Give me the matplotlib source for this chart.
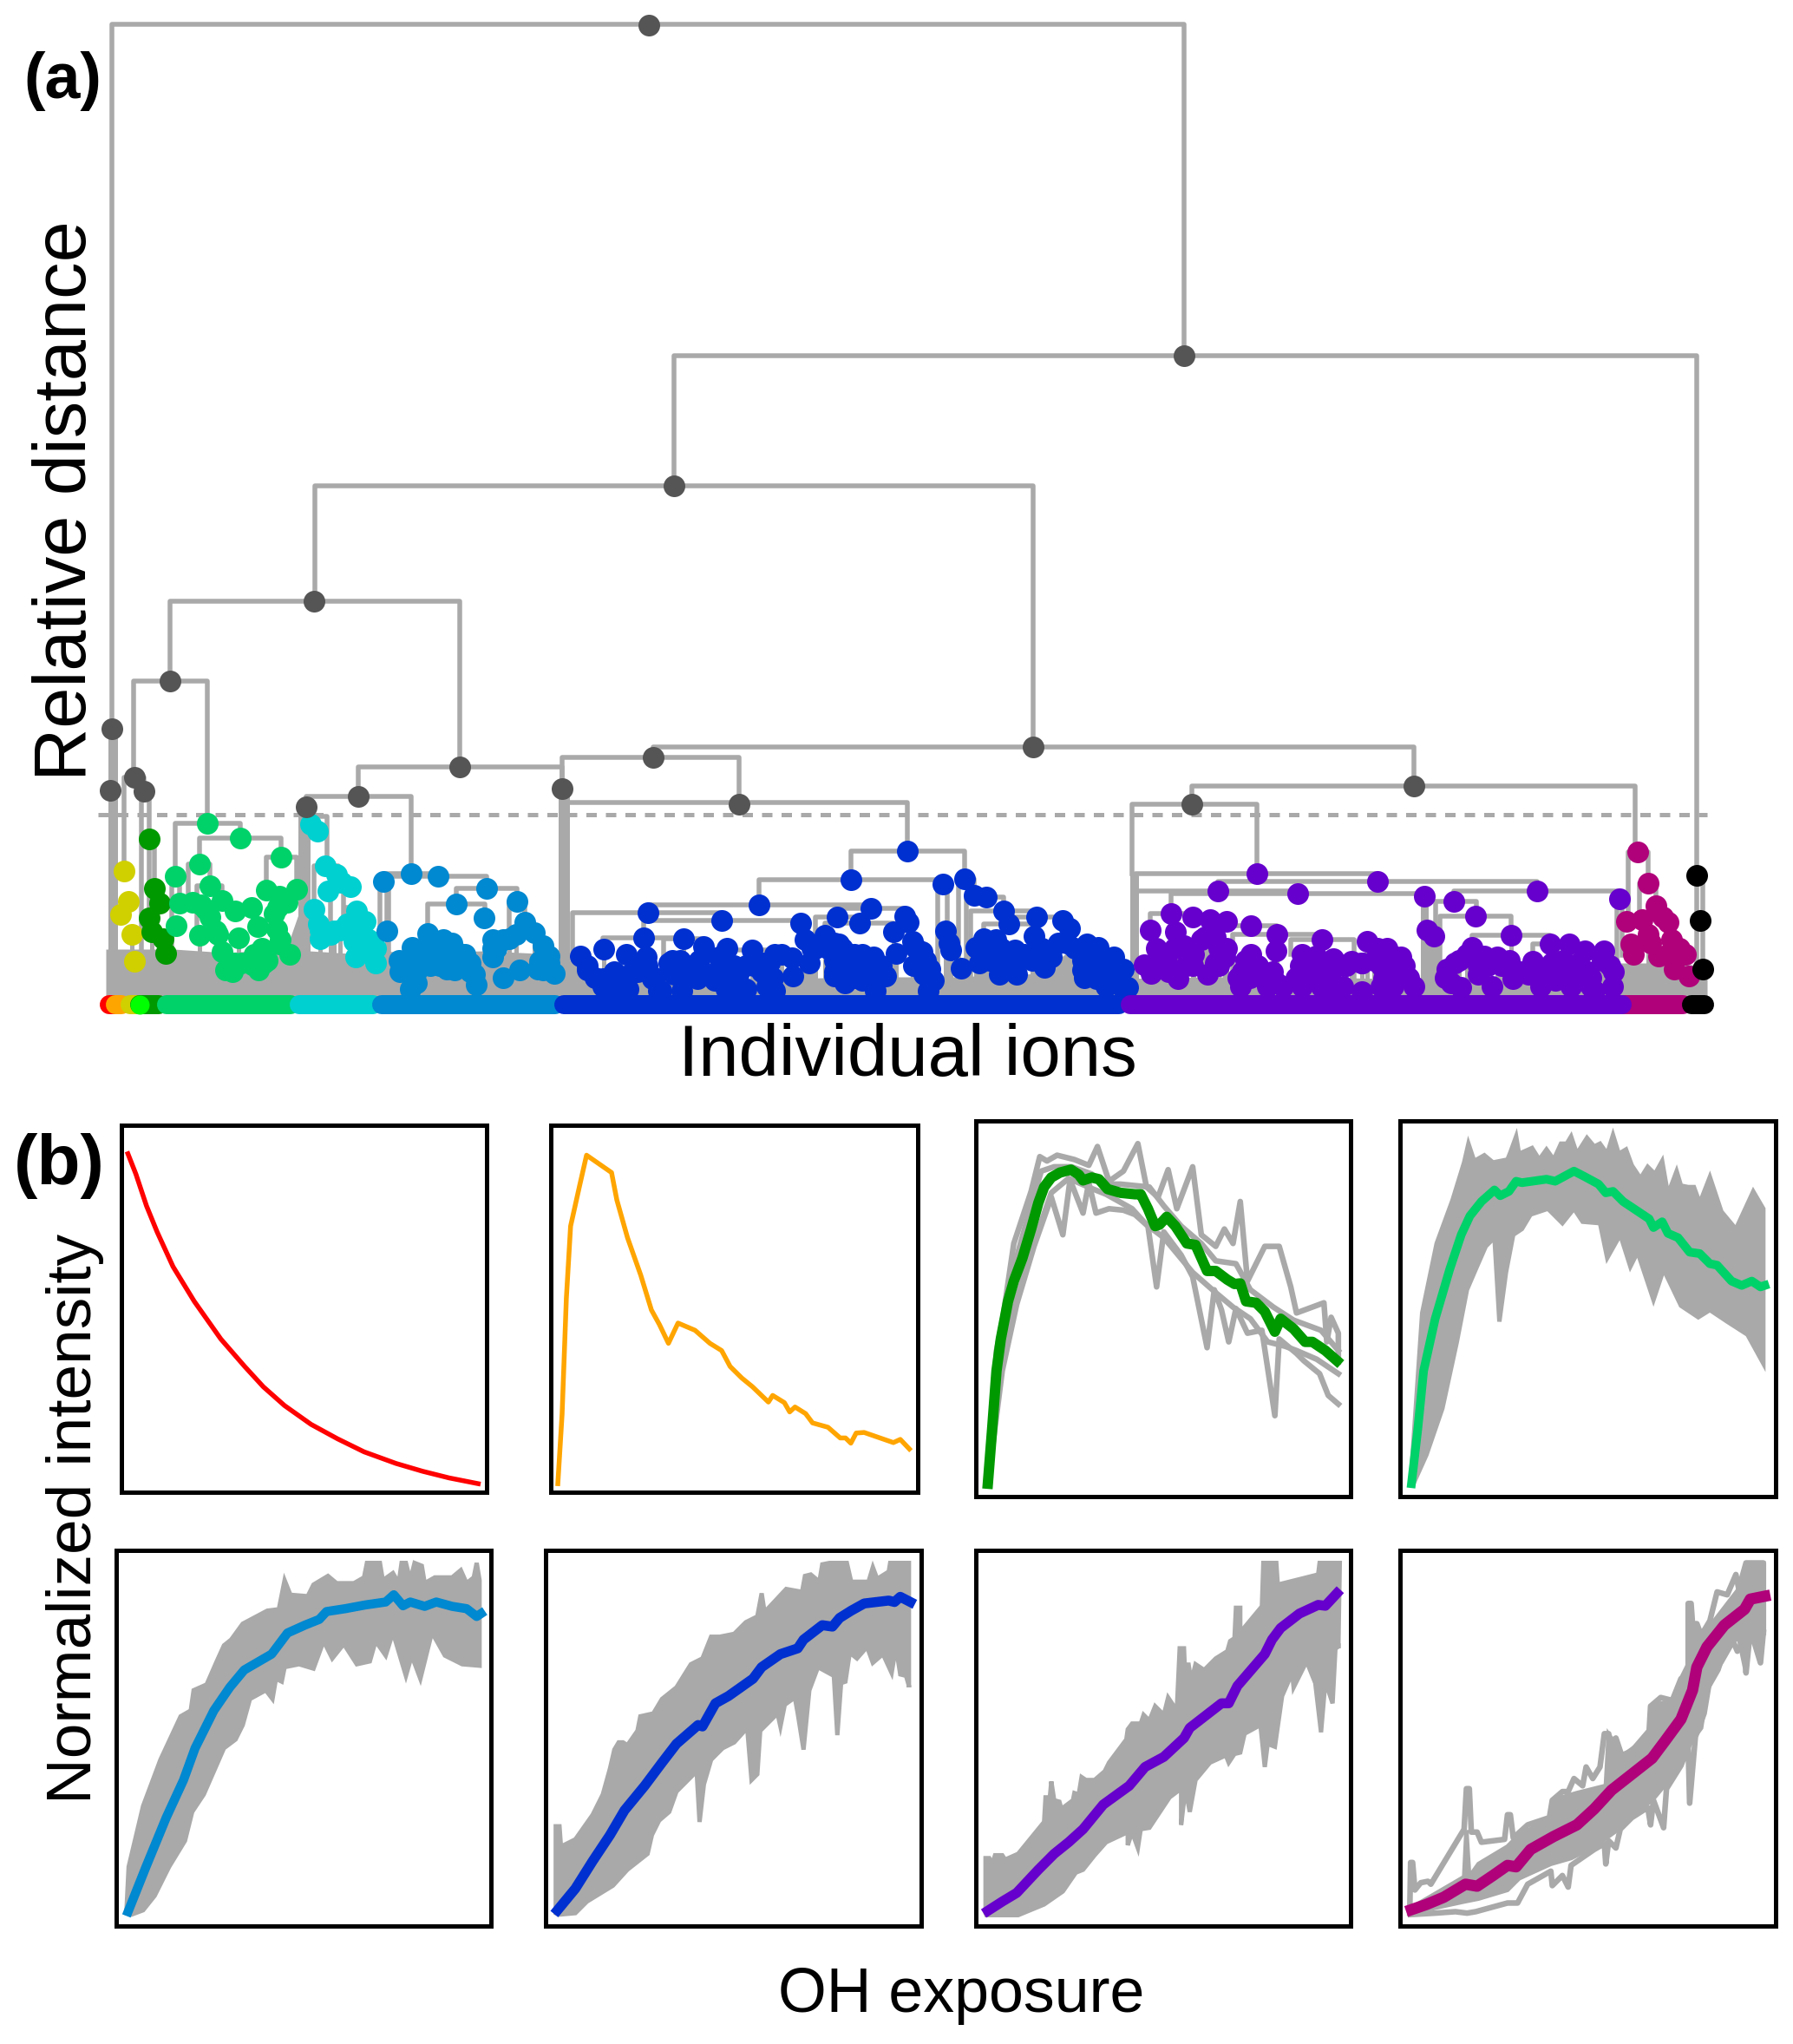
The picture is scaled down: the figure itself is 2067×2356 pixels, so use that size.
import numpy as np
import matplotlib as mpl
mpl.use('Agg')
from matplotlib import pyplot as plt

mpl.rcParams['font.family'] = ['Liberation Sans', 'DejaVu Sans']

W, H = 2067, 2356
BASE = 1156   # pixel row of distance zero in the tree
GRAY = '#a9a9a9'
NODE = '#555555'

# ---- (a) tree: one entry per link: left, right, height, left leg end, right leg end
link_l = [129, 777, 363, 196, 154, 143, 163, 172, 413, 353, 442, 438, 448, 526, 493, 587,
          753, 648, 652, 981, 875, 747, 660, 742, 965, 940, 951, 1081, 1105, 1114, 1119, 1165, 1134, 695, 765, 838,
          1374, 1305, 1309, 1404, 1309, 1350, 1676, 1655, 1660, 1697, 1767, 1864, 1326, 1394, 1421, 1488, 1877, 1890,
          202, 230, 307, 217, 227, 198, 351, 362, 381, 397, 1956]
link_r = [1365, 1956, 1191, 530, 239, 166, 172, 178, 648, 474, 505, 446, 561, 596, 559, 605,
          1630, 852, 1046, 1112, 1087, 1004, 832, 923, 1043, 991, 1030, 1092, 1123, 1157, 1195, 1225, 1192, 788, 811, 901,
          1885, 1449, 1588, 1772, 1496, 1642, 1867, 1702, 1742, 1787, 1809, 1870, 1375, 1472, 1524, 1561, 1900, 1909,
          277, 324, 342, 242, 256, 207, 377, 390, 396, 411, 1963]
link_h = [1128, 746, 596, 463, 371, 260, 244, 189, 272, 238, 149, 140, 146, 132, 114, 117,
          295, 283, 231, 175, 142, 113, 104, 95, 109, 99, 92, 137, 143, 122, 106, 99, 91, 75, 74, 61,
          250, 229, 149, 140, 129, 126, 129, 117, 100, 78, 68, 120, 103, 89, 79, 73, 174, 138,
          207, 190, 168, 160, 135, 146, 215, 158, 129, 110, 147]
link_le = [316, 596, 463, 371, 260, 152, 0, 98, 238, 226, 140, 0, 0, 114, 80, 74,
           283, 247, 0, 142, 113, 104, 45, 75, 99, 63, 78, 0, 0, 0, 0, 91, 74, 62, 46, 63,
           229, 149, 0, 129, 0, 103, 117, 0, 0, 64, 48, 0, 84, 53, 0, 56, 94, 96,
           146, 160, 130, 115, 90, 0, 0, 108, 90, 90, 0]
link_re = [746, 147, 295, 272, 207, 244, 189, 132, 247, 149, 146, 83, 132, 117, 98, 93,
           250, 231, 175, 143, 137, 109, 95, 92, 100, 92, 82, 83, 124, 106, 99, 95, 77, 74, 65, 56,
           174, 149, 140, 129, 126, 123, 120, 100, 78, 68, 68, 55, 99, 79, 73, 0, 138, 112,
           190, 168, 131, 135, 118, 115, 158, 148, 90, 90, 0]
# node centres that close the upper tree
node_x = [748, 1365, 777, 362, 196, 129, 155, 166, 127, 530, 413, 353, 648, 753, 852, 1191, 1630, 1374]
node_h = [1127, 746, 596, 463, 371, 316, 260, 244, 245, 272, 238, 226, 247, 283, 229, 295, 250, 229]
# thick bundles of merged stems: centre, width, top
bundle_x = [130, 351, 650, 1308, 1642, 1650]
bundle_w = [11, 14, 13, 10, 9, 24]
bundle_h = [316, 226, 247, 149, 125, 65]

# gray mass under the clusters
mass_x = [122, 200, 260, 330, 345, 356, 420, 440, 470, 560, 640, 700, 800, 900, 1000, 1100, 1200, 1230, 1290, 1400, 1500, 1600, 1700, 1800, 1868, 1900, 1950, 1968]
mass_h = [62, 62, 58, 62, 105, 60, 56, 60, 58, 60, 56, 30, 30, 28, 30, 30, 34, 58, 28, 30, 30, 28, 30, 28, 46, 46, 44, 36]

# leaves, read per cluster
yellow_x = [143, 148, 139, 152, 155]
yellow_h = [152, 117, 102, 79, 48]
dgreen_x = [172, 178, 184, 172, 175, 188, 191]
dgreen_h = [189, 132, 115, 98, 82, 74, 57]
green_x = [239, 277, 324, 230, 202, 242, 342, 307, 256, 207, 222, 232, 290, 271, 331, 322, 316, 242, 203, 230, 251, 297, 319, 275, 322, 302, 256, 334, 278, 304, 260, 298, 268, 291,
           270, 293, 308, 249, 237, 320, 323]
green_h = [207, 190, 168, 160, 146, 135, 131, 130, 118, 115, 116, 113, 110, 106, 116, 123, 103, 99, 89, 78, 79, 88, 85, 75, 68, 63, 59, 56, 46, 46, 38, 38, 36, 44,
           46, 56, 49, 83, 108, 110, 73]
cyan_x = [358, 366, 375, 388, 404, 378, 394, 362, 411, 421, 367, 385, 400, 369, 425, 408, 415, 410, 433, 433,
          369, 392, 408, 381, 423]
cyan_h = [206, 198, 158, 148, 134, 129, 139, 108, 106, 94, 91, 83, 91, 74, 73, 71, 63, 53, 63, 46,
          84, 84, 79, 79, 63]
blue_x = [442, 474, 505, 561, 526, 596, 446, 558, 605, 493, 616, 568, 475, 511, 521, 587, 572, 492, 626, 633, 460, 568, 507, 530, 622, 542, 599, 580, 639, 626, 461, 515, 524, 547, 480, 549, 473,
          473, 484, 499, 526, 536, 515, 496, 507, 534, 473, 480, 542, 568, 580, 595, 633, 620]
blue_h = [140, 149, 146, 132, 114, 117, 83, 98, 93, 80, 81, 73, 64, 73, 69, 74, 63, 56, 66, 54, 49, 53, 51, 53, 48, 46, 38, 29, 34, 38, 36, 39, 38, 33, 23, 21, 16,
          49, 59, 63, 59, 56, 53, 43, 43, 43, 33, 36, 36, 63, 73, 79, 46, 39]
royal_x = [1046, 1112, 981, 1087, 875, 747, 832, 923, 1004, 965, 991, 1043, 1047, 1123, 1137, 1157, 1163, 1195, 1225, 1233, 1090, 1030, 1192, 1220, 742, 788, 1052, 811, 838, 867, 1094, 1096, 928, 951, 940, 1134, 1148, 1125, 1170, 1201, 669, 696, 722, 745, 784, 771, 901, 913, 829, 846, 933, 994, 1007, 980, 967, 1033, 1063, 1053, 1108, 1129, 1152, 1172, 1204, 1212, 1248, 1264, 1266, 1284, 1295, 1279, 1300, 677, 695, 708, 735, 752, 759, 704, 724, 804, 786, 824, 842, 860, 884, 893, 914, 962, 974, 994, 1009, 1021, 1070, 1076, 880,
           677, 686, 695, 708, 717, 726, 739, 746, 755, 762, 775, 777, 786, 797, 806, 804, 833, 826, 837, 851, 860, 869, 878, 887, 893, 891, 884, 846, 837, 936, 954, 962, 971, 962, 985, 989, 1003, 1016, 971, 962, 985, 1003, 1056, 1067, 1072, 1065, 1137, 1141, 1154, 1159, 1181, 1172, 1190, 1197, 1206, 1154, 1248, 1253, 1259, 1270, 1279, 1288, 1268, 1250, 1275, 1293, 1230, 1239, 1253]
royal_h = [175, 143, 142, 137, 113, 104, 95, 92, 109, 99, 92, 100, 93, 124, 122, 106, 91, 99, 95, 86, 83, 82, 77, 69, 75, 74, 71, 65, 63, 61, 69, 61, 73, 78, 63, 74, 73, 64, 61, 63, 54, 62, 56, 53, 49, 46, 56, 52, 53, 43, 46, 56, 53, 56, 68, 57, 59, 43, 40, 46, 33, 33, 41, 53, 38, 28, 64, 53, 39, 26, 18, 38, 28, 36, 36, 28, 14, 16, 16, 28, 14, 26, 19, 16, 29, 14, 31, 31, 23, 26, 14, 31, 14, 26, 46,
           43, 29, 19, 19, 29, 33, 43, 43, 29, 14, 49, 33, 33, 43, 49, 43, 33, 36, 43, 33, 43, 43, 36, 46, 56, 29, 19, 19, 16, 63, 63, 69, 63, 49, 56, 46, 43, 43, 36, 36, 29, 29, 63, 49, 39, 33, 63, 49, 63, 49, 56, 49, 49, 56, 49, 43, 49, 49, 39, 53, 43, 33, 29, 29, 19, 19, 69, 63, 68]
purple_x = [1449, 1588, 1404, 1496, 1642, 1772, 1676, 1867, 1701, 1350, 1375, 1395, 1414, 1442, 1326, 1355, 1472, 1645, 1653, 1742, 1524, 1471, 1576, 1787, 1809, 1827, 1849, 1697, 1333, 1365, 1389, 1405, 1412, 1442, 1501, 1517, 1537, 1558, 1588, 1606, 1619, 1767, 1791, 1711, 1726, 1856, 1682, 1319, 1327, 1358, 1375, 1392, 1405, 1427, 1430, 1461, 1445, 1467, 1479, 1501, 1505, 1534, 1548, 1570, 1595, 1608, 1630, 1666, 1684, 1720, 1744, 1740, 1776, 1784, 1811, 1834, 1822, 1859, 1838, 1570,
            1336, 1345, 1354, 1376, 1385, 1401, 1401, 1414, 1367, 1347, 1436, 1432, 1450, 1456, 1472, 1441, 1494, 1499, 1512, 1523, 1530, 1543, 1523, 1539, 1552, 1570, 1584, 1592, 1613, 1624, 1599, 1615, 1592, 1606, 1668, 1677, 1691, 1704, 1715, 1731, 1740, 1673, 1704, 1753, 1762, 1767, 1776, 1789, 1802, 1820, 1831, 1802, 1816, 1834, 1793, 1860, 1847]
purple_h = [149, 140, 129, 126, 123, 129, 117, 120, 100, 103, 99, 96, 94, 89, 84, 82, 79, 84, 77, 78, 73, 60, 71, 68, 68, 60, 60, 64, 63, 66, 76, 63, 53, 56, 56, 54, 51, 48, 63, 54, 43, 48, 44, 54, 53, 43, 49, 44, 34, 28, 43, 33, 43, 29, 19, 19, 46, 36, 19, 19, 34, 36, 19, 13, 28, 29, 19, 29, 18, 19, 28, 43, 19, 33, 19, 29, 36, 19, 14, 46,
            43, 46, 63, 56, 73, 76, 46, 63, 43, 36, 49, 36, 43, 29, 23, 29, 29, 43, 43, 36, 46, 43, 19, 19, 43, 46, 49, 43, 36, 29, 63, 53, 19, 19, 39, 46, 56, 43, 43, 43, 49, 23, 33, 36, 33, 39, 36, 46, 49, 46, 36, 36, 29, 19, 26, 36, 49]
magenta_x = [1888, 1900, 1909, 1875, 1893, 1917, 1923, 1880, 1883, 1900, 1903, 1927, 1936, 1912, 1943, 1930, 1947, 1923]
magenta_h = [174, 138, 112, 94, 96, 99, 93, 68, 56, 79, 69, 73, 63, 54, 56, 39, 31, 56]
black_x = [1956, 1960, 1963]
black_h = [147, 95, 39]

# colour strip under the leaves: start, end of each cluster
strip_start = [126, 133, 150, 161, 192, 345, 440, 650, 1850, 1303, 1950]
strip_end = [133, 140, 165, 183, 335, 430, 640, 1290, 1940, 1870, 1965]
strip_col = ['#ff0000', '#ffa500', '#d0d000', '#009900', '#00d26a', '#00d0d0', '#0088d0', '#0030d0', '#b0007a', '#6600cc', '#000000']
lime_x = [161]

# ---- (b) small panels: exposure, normalized intensity
red_x = [45, 60, 80, 100, 130, 170, 220, 265, 300, 340, 390, 440, 490, 550, 600, 650, 705]
red_y = [1168, 1098, 988, 898, 778, 658, 528, 433, 363, 298, 233, 183, 138, 98, 71, 48, 28]
orange_x = [854, 862, 870, 878, 895, 908, 955, 965, 985, 1010, 1030, 1045, 1062, 1080, 1112, 1140, 1162, 1178, 1200, 1220, 1250, 1258, 1280, 1290, 1300, 1320, 1333, 1362, 1385, 1395, 1405, 1415, 1430, 1485, 1498, 1515]
orange_y = [28, 268, 668, 918, 1058, 1163, 1103, 1008, 878, 748, 628, 578, 513, 583, 558, 513, 488, 433, 393, 363, 310, 333, 308, 276, 293, 270, 238, 223, 186, 186, 168, 203, 205, 170, 181, 148]

p3_mean_x = [70, 85, 100, 115, 140, 160, 190, 220, 245, 265, 290, 320, 358, 385, 400, 430, 455, 485, 530, 580, 600, 625, 650, 665, 690, 720, 760, 790, 830, 860, 900, 925, 945, 965, 1000, 1030, 1065, 1085, 1130, 1170, 1195, 1240, 1280]
p3_mean_y = [43, 233, 433, 543, 673, 743, 823, 923, 1013, 1068, 1101, 1118, 1128, 1111, 1091, 1101, 1095, 1061, 1048, 1043, 1043, 993, 933, 938, 965, 933, 873, 868, 778, 778, 748, 733, 735, 673, 668, 638, 568, 613, 578, 533, 533, 503, 468]
p3a_x = [70, 110, 160, 220, 250, 275, 310, 370, 420, 450, 490, 540, 590, 620, 660, 695, 725, 780, 810, 860, 890, 920, 945, 970, 1030, 1080, 1120, 1140, 1235, 1245, 1260, 1285, 1285]
p3a_y = [43, 533, 873, 1053, 1173, 1158, 1178, 1163, 1143, 1208, 1088, 1123, 1218, 1068, 1033, 1128, 993, 1138, 903, 863, 923, 873, 1018, 743, 863, 863, 723, 633, 668, 533, 618, 563, 463]
p3b_x = [70, 120, 170, 230, 290, 330, 355, 400, 420, 445, 490, 540, 580, 625, 655, 680, 740, 780, 830, 855, 880, 905, 930, 970, 1020, 1065, 1080, 1140, 1165, 1220, 1250, 1285]
p3b_y = [43, 433, 663, 863, 1033, 903, 1093, 978, 1083, 978, 993, 988, 973, 933, 723, 913, 833, 758, 513, 713, 643, 533, 648, 563, 573, 278, 543, 493, 468, 423, 348, 318]
p3c_x = [70, 100, 150, 200, 255, 300, 360, 430, 470, 530, 630, 680, 740, 810, 860, 930, 980, 1060, 1130, 1225, 1285]
p3c_y = [43, 503, 753, 933, 1123, 1138, 1138, 1113, 1078, 1078, 1068, 1003, 933, 873, 813, 803, 713, 653, 608, 573, 503]
p3d_x = [70, 110, 170, 240, 290, 350, 430, 480, 570, 620, 680, 730, 780, 860, 920, 980, 1040, 1100, 1140, 1210, 1285]
p3d_y = [43, 433, 683, 903, 1048, 1098, 1063, 1043, 993, 938, 893, 833, 773, 703, 653, 613, 533, 518, 503, 473, 423]

p4_up_x = [65, 105, 155, 210, 250, 265, 285, 320, 350, 400, 410, 430, 440, 485, 510, 535, 560, 585, 605, 620, 640, 675, 700, 720, 745, 765, 785, 810, 830, 860, 885, 910, 935, 955, 985, 1000, 1025, 1045, 1065, 1100, 1140, 1190, 1250, 1285, 1285]
p4_up_y = [43, 633, 873, 1023, 1153, 1218, 1158, 1178, 1153, 1163, 1188, 1243, 1183, 1203, 1163, 1198, 1163, 1218, 1218, 1243, 1183, 1238, 1208, 1218, 1183, 1248, 1183, 1198, 1143, 1098, 1138, 1113, 1158, 1043, 1123, 1073, 1068, 1068, 1013, 1103, 983, 923, 1053, 993, 463]
p4_lo_x = [75, 120, 175, 225, 260, 290, 325, 355, 372, 395, 420, 450, 480, 540, 590, 630, 660, 720, 745, 790, 825, 850, 905, 940, 1000, 1060, 1100, 1160, 1230, 1285]
p4_lo_y = [43, 143, 303, 533, 713, 783, 863, 893, 603, 773, 903, 923, 973, 993, 943, 993, 948, 943, 823, 903, 793, 843, 678, 783, 658, 618, 643, 603, 558, 458]
p4_mean_x = [68, 90, 110, 150, 200, 240, 270, 310, 355, 375, 405, 430, 450, 535, 565, 630, 665, 715, 740, 765, 800, 830, 890, 905, 935, 955, 990, 1030, 1065, 1100, 1125, 1175, 1210, 1245, 1275, 1290]
p4_mean_y = [43, 233, 433, 613, 783, 903, 968, 1018, 1058, 1038, 1053, 1088, 1083, 1095, 1088, 1123, 1105, 1078, 1048, 1053, 1018, 998, 958, 928, 948, 908, 893, 843, 838, 803, 798, 743, 728, 743, 723, 728]

p5_up_x = [62, 70, 120, 180, 250, 285, 295, 340, 375, 400, 425, 465, 550, 590, 610, 630, 690, 710, 760, 790, 850, 885, 895, 940, 950, 985, 1005, 1015, 1030, 1045, 1060, 1085, 1095, 1130, 1190, 1220, 1240, 1265, 1275, 1285, 1285]
p5_up_y = [43, 203, 413, 573, 723, 743, 813, 833, 913, 968, 988, 1043, 1088, 1093, 1193, 1143, 1138, 1178, 1208, 1183, 1183, 1203, 1253, 1253, 1193, 1218, 1183, 1253, 1253, 1193, 1253, 1243, 1183, 1203, 1203, 1228, 1183, 1203, 1253, 1193, 903]
p5_lo_x = [80, 120, 160, 210, 265, 290, 330, 400, 440, 465, 490, 545, 568, 580, 600, 610, 660, 710, 745, 775, 815, 860, 905, 925, 960, 985, 1030, 1050, 1080, 1120, 1165, 1225, 1285]
p5_lo_y = [38, 53, 103, 203, 293, 393, 453, 613, 643, 693, 783, 813, 783, 853, 843, 893, 903, 888, 983, 923, 973, 903, 913, 983, 933, 1013, 863, 933, 853, 1013, 933, 903, 898]
p5_mean_x = [68, 130, 200, 260, 300, 365, 420, 470, 565, 620, 680, 730, 755, 820, 890, 960, 988, 1020, 1045, 1095, 1135, 1190, 1240, 1275, 1290]
p5_mean_y = [48, 203, 373, 503, 613, 743, 823, 883, 938, 1011, 1038, 1058, 1085, 1095, 1108, 1118, 1143, 1105, 1118, 1103, 1118, 1103, 1095, 1068, 1078]

p6_up_x = [62, 62, 75, 80, 130, 190, 225, 250, 265, 280, 295, 310, 345, 355, 400, 430, 480, 530, 570, 600, 630, 680, 720, 760, 775, 785, 860, 915, 925, 945, 975, 985, 1010, 1025, 1070, 1085, 1145, 1160, 1175, 1215, 1220, 1285, 1285]
p6_up_y = [43, 343, 343, 273, 298, 383, 453, 543, 608, 633, 633, 623, 673, 723, 733, 783, 823, 903, 923, 998, 998, 1008, 1048, 1068, 1148, 1083, 1163, 1153, 1208, 1213, 1188, 1248, 1253, 1253, 1253, 1188, 1188, 1238, 1198, 1223, 1253, 1253, 823]
p6_lo_x = [75, 130, 170, 260, 310, 380, 395, 420, 455, 480, 550, 560, 575, 600, 640, 680, 725, 740, 760, 770, 830, 840, 855, 890, 900, 920, 940, 970, 1025, 1037, 1050, 1065, 1080, 1105, 1140, 1160, 1195, 1225, 1240, 1255, 1275, 1285]
p6_lo_y = [38, 43, 83, 138, 193, 248, 313, 363, 393, 463, 533, 358, 488, 573, 613, 633, 683, 503, 523, 673, 733, 688, 763, 788, 733, 608, 813, 893, 863, 658, 838, 843, 943, 923, 963, 908, 938, 873, 963, 868, 863, 828]
p6_mean_x = [68, 130, 190, 250, 300, 370, 430, 480, 555, 570, 615, 660, 745, 775, 840, 900, 920, 985, 1020, 1045, 1085, 1130, 1215, 1235, 1255, 1290]
p6_mean_y = [53, 128, 223, 313, 398, 483, 563, 628, 693, 688, 768, 793, 853, 893, 938, 958, 988, 1038, 1033, 1063, 1088, 1113, 1123, 1118, 1136, 1118]

p7_up_x = [62, 62, 75, 85, 95, 120, 130, 175, 265, 270, 285, 290, 300, 318, 325, 365, 370, 385, 395, 410, 440, 475, 490, 550, 555, 570, 600, 610, 630, 650, 680, 695, 725, 735, 750, 755, 765, 775, 790, 820, 860, 900, 910, 925, 930, 945, 945, 1020, 1025, 1070, 1075, 1215, 1220, 1290, 1285]
p7_up_y = [43, 233, 233, 213, 243, 243, 228, 248, 358, 443, 443, 498, 433, 428, 403, 433, 458, 453, 513, 503, 503, 533, 563, 643, 678, 698, 698, 728, 708, 758, 728, 788, 743, 958, 958, 833, 908, 843, 903, 883, 923, 948, 983, 993, 1098, 1098, 1013, 1103, 1253, 1253, 1178, 1213, 1253, 1253, 958]
p7_lo_x = [65, 175, 265, 330, 375, 400, 440, 480, 555, 555, 570, 590, 600, 630, 700, 740, 740, 755, 770, 790, 840, 895, 905, 925, 945, 960, 1015, 1030, 1040, 1065, 1090, 1125, 1130, 1175, 1205, 1225, 1240, 1265, 1275, 1285]
p7_lo_y = [36, 36, 73, 118, 183, 193, 243, 288, 323, 278, 323, 268, 333, 338, 443, 473, 348, 473, 393, 503, 563, 588, 563, 593, 598, 663, 693, 548, 628, 618, 793, 873, 823, 913, 838, 668, 843, 768, 958, 963]
p7_mean_x = [70, 120, 170, 245, 300, 350, 400, 470, 560, 615, 680, 750, 770, 880, 905, 935, 1030, 1055, 1085, 1150, 1215, 1240, 1280]
p7_mean_y = [51, 83, 113, 193, 248, 288, 333, 418, 483, 548, 583, 648, 683, 768, 768, 828, 938, 988, 1028, 1078, 1108, 1105, 1148]

# panel 8 is thinner: a core bundle plus the outermost single traces
p8_up_x = [62, 65, 72, 80, 100, 125, 135, 250, 258, 268, 275, 295, 310, 390, 400, 410, 420, 470, 545, 555, 590, 610, 630, 660, 672, 695, 720, 735, 750, 755, 775, 795, 830, 890, 895, 930, 970, 1000, 1025, 1025, 1035, 1040, 1055, 1070, 1100, 1125, 1160, 1190, 1200, 1225, 1285, 1285]
p8_up_y = [43, 218, 218, 123, 148, 153, 143, 333, 473, 473, 323, 323, 288, 298, 383, 383, 303, 348, 373, 433, 463, 463, 508, 483, 548, 508, 548, 663, 663, 633, 648, 588, 603, 673, 758, 788, 778, 853, 853, 1113, 1113, 1043, 1043, 1003, 1053, 1153, 1143, 1213, 1163, 1253, 1253, 1013]
p8_lo_x = [65, 150, 220, 260, 290, 400, 435, 470, 550, 555, 590, 610, 620, 700, 735, 740, 750, 775, 790, 830, 885, 895, 905, 940, 950, 1000, 1025, 1030, 1050, 1080, 1100, 1140, 1180, 1195, 1220, 1225, 1240, 1275, 1285]
p8_lo_y = [38, 43, 48, 43, 48, 78, 78, 143, 188, 138, 173, 133, 208, 263, 283, 213, 293, 268, 333, 373, 408, 348, 433, 338, 473, 553, 618, 423, 653, 733, 853, 913, 983, 948, 993, 873, 1023, 908, 1013]
p8_core_up_x = [70, 250, 258, 268, 300, 400, 440, 545, 555, 640, 740, 750, 800, 890, 895, 970, 1000, 1025, 1035, 1070, 1100, 1200, 1225, 1285]
p8_core_up_y = [63, 168, 330, 168, 213, 273, 313, 368, 433, 458, 483, 660, 588, 653, 758, 778, 853, 903, 1043, 993, 1033, 1163, 1253, 1253]
p8_core_lo_x = [65, 250, 300, 400, 440, 550, 620, 700, 770, 830, 900, 950, 1000, 1040, 1070, 1090, 1130, 1160, 1200, 1225, 1240, 1275, 1285]
p8_core_lo_y = [43, 83, 93, 123, 163, 213, 233, 273, 323, 383, 433, 493, 563, 643, 683, 813, 883, 973, 993, 873, 1023, 908, 1013]
p8_mean_x = [68, 120, 180, 255, 295, 350, 400, 430, 480, 560, 640, 700, 760, 830, 900, 945, 1000, 1040, 1055, 1090, 1150, 1220, 1240, 1290]
p8_mean_y = [55, 73, 98, 143, 136, 173, 208, 203, 263, 308, 348, 403, 468, 523, 578, 638, 713, 813, 893, 963, 1038, 1093, 1128, 1138]


def px(v):
    # pixels to points at dpi 100
    return v * 0.72


fig = plt.figure(figsize=(W / 100, H / 100), dpi=100, facecolor='white')
ax = fig.add_axes([0, 0, 1, 1])
ax.set_xlim(0, W)
ax.set_ylim(BASE - H, BASE)
ax.axis('off')

ax.fill_between(mass_x, 0, mass_h, color=GRAY, lw=0, zorder=1)
for cx, cw, ch in zip(bundle_x, bundle_w, bundle_h):
    ax.plot([cx, cx], [0, ch], color=GRAY, lw=px(cw), solid_capstyle='butt', zorder=1)

for l, r, h, le, re in zip(link_l, link_r, link_h, link_le, link_re):
    ax.plot([l, l, r, r], [le, h, h, re], color=GRAY, lw=px(5.5), solid_joinstyle='round', zorder=2)

ax.plot([113, 1968], [217, 217], color=GRAY, lw=px(5), linestyle=(0, (2.4, 2.1)), zorder=2)

clusters = [(yellow_x, yellow_h, '#d0d000'), (dgreen_x, dgreen_h, '#009900'), (green_x, green_h, '#00d26a'),
            (cyan_x, cyan_h, '#00d0d0'), (blue_x, blue_h, '#0088d0'), (royal_x, royal_h, '#0030d0'),
            (magenta_x, magenta_h, '#b0007a'), (purple_x, purple_h, '#6600cc'), (black_x, black_h, '#000000')]
# leaf stems first, then the dots on top
for xs, hs, c in clusters:
    for x, h in zip(xs, hs):
        if h < 85:
            ax.plot([x, x], [0, h], color=GRAY, lw=px(5), solid_capstyle='butt', zorder=2)
for i, (xs, hs, c) in enumerate(clusters):
    ax.scatter(xs, hs, s=px(25) ** 2, color=c, linewidths=0, zorder=3 + i * 0.01)

for i, (s, e, c) in enumerate(zip(strip_start, strip_end, strip_col)):
    ax.plot([s, e], [-2, -2], color=c, lw=px(22), solid_capstyle='round', zorder=4 + i * 0.01)
ax.scatter(lime_x, [-2], s=px(22) ** 2, color='#00ff00', linewidths=0, zorder=4.05)
ax.scatter(node_x, node_h, s=px(25) ** 2, color=NODE, linewidths=0, zorder=5)


def add_panel(left, right, top, bottom, xlim, ylim):
    a = fig.add_axes([left / W, 1 - bottom / H, (right - left) / W, (bottom - top) / H])
    a.set_xlim(*xlim)
    a.set_ylim(*ylim)
    a.set_xticks([])
    a.set_yticks([])
    for s in a.spines.values():
        s.set_linewidth(px(5))
    return a


a1 = add_panel(139.5, 560.5, 1296.5, 1719.5, (32, 720), (0, 1268))
a1.plot(red_x, red_y, color='#ff0000', lw=px(5.5))
a2 = add_panel(634.5, 1057.5, 1296.5, 1719.5, (840, 1530), (0, 1268))
a2.plot(orange_x, orange_y, color='#ffa500', lw=px(5.5))

LIMS = ((27, 1326), (0, 1298))
a3 = add_panel(1124.5, 1556.5, 1291.5, 1724.5, *LIMS)
for gx, gy in [(p3a_x, p3a_y), (p3b_x, p3b_y), (p3c_x, p3c_y), (p3d_x, p3d_y)]:
    a3.plot(gx, gy, color=GRAY, lw=px(6.5))
a3.plot(p3_mean_x, p3_mean_y, color='#009900', lw=px(12))

band_panels = [
    ((1613.5, 2046.5, 1291.5, 1724.5), p4_up_x, p4_up_y, p4_lo_x, p4_lo_y, p4_mean_x, p4_mean_y, '#00d26a', 10),
    ((134, 566.5, 1786.5, 2219.5), p5_up_x, p5_up_y, p5_lo_x, p5_lo_y, p5_mean_x, p5_mean_y, '#0088d0', 10.5),
    ((629, 1061.5, 1786.5, 2219.5), p6_up_x, p6_up_y, p6_lo_x, p6_lo_y, p6_mean_x, p6_mean_y, '#0030d0', 11.5),
    ((1124.5, 1556.5, 1786.5, 2219.5), p7_up_x, p7_up_y, p7_lo_x, p7_lo_y, p7_mean_x, p7_mean_y, '#6600cc', 11.5),
]
for box, ux, uy, lx, ly, mx, my, col, mw in band_panels:
    a = add_panel(*box, *LIMS)
    a.fill(np.r_[ux, lx[::-1]], np.r_[uy, ly[::-1]], facecolor=GRAY, edgecolor=GRAY, lw=px(5))
    a.plot(mx, my, color=col, lw=px(mw))

a8 = add_panel(1613.5, 2046.5, 1786.5, 2219.5, *LIMS)
a8.fill(np.r_[p8_core_up_x, p8_core_lo_x[::-1]], np.r_[p8_core_up_y, p8_core_lo_y[::-1]],
        facecolor=GRAY, edgecolor=GRAY, lw=px(5))
a8.plot(p8_up_x, p8_up_y, color=GRAY, lw=px(6.5))
a8.plot(p8_lo_x, p8_lo_y, color=GRAY, lw=px(6.5))
a8.plot(p8_mean_x, p8_mean_y, color='#b0007a', lw=px(13))


def label(text, x, y, size, **kw):
    fig.text(x / W, 1 - y / H, text, fontsize=size, ha='center', va='center', **kw)


label('(a)', 72, 93, 53, fontweight='bold')
label('(b)', 68, 1344, 59, fontweight='bold')
label('Relative distance', 77, 577, 61, rotation=90)
label('Individual ions', 1046, 1218, 60)
label('Normalized intensity', 87, 1750, 52.6, rotation=90)
label('OH exposure', 1108, 2301, 51.7)

fig.savefig('out.png', dpi=100)
